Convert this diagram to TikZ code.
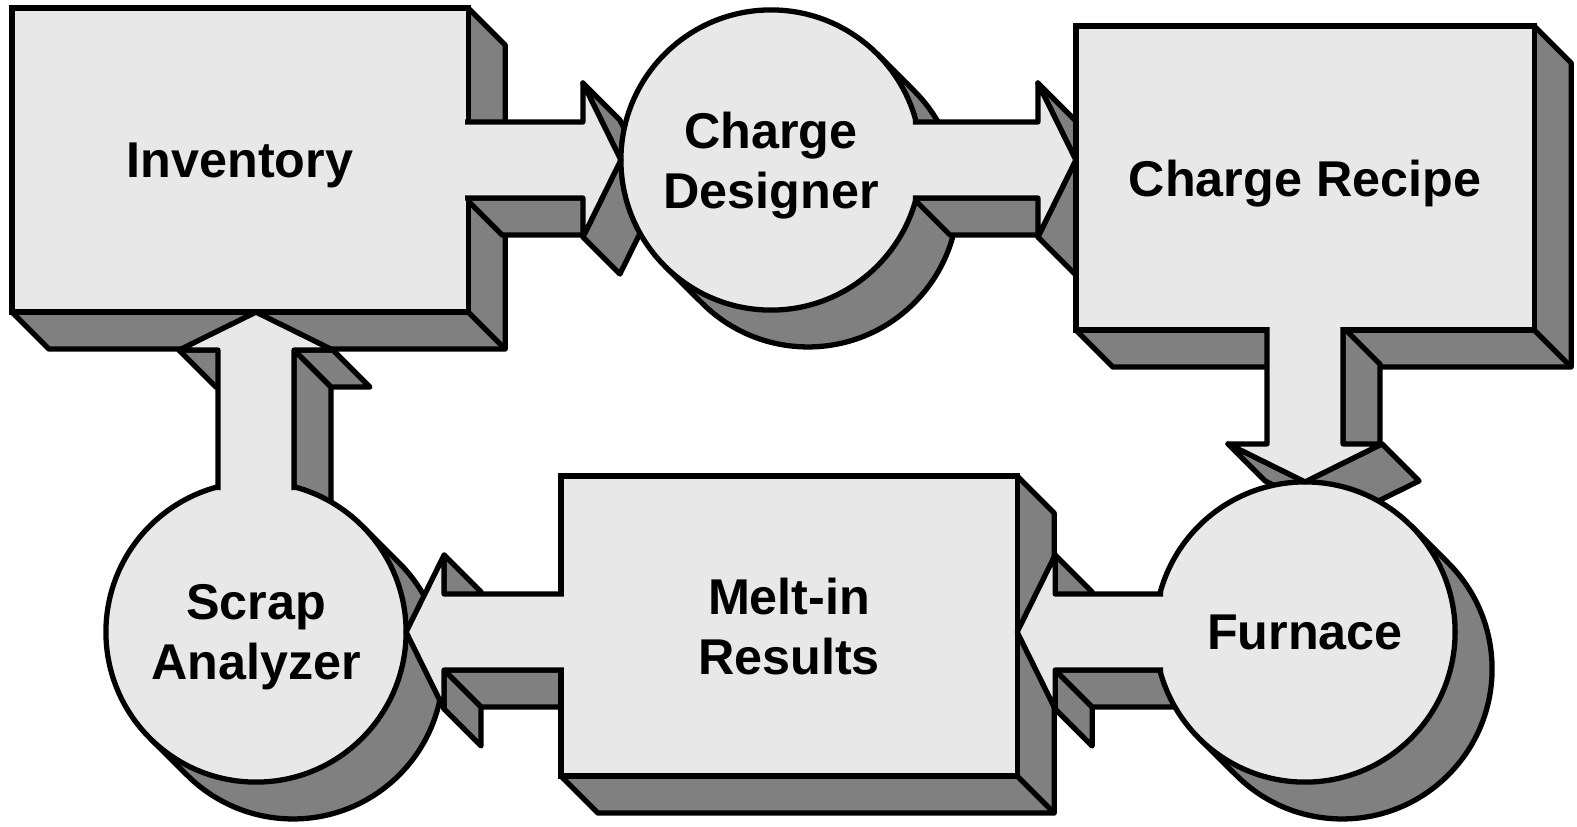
\documentclass[tikz,border=0pt]{standalone}
\usepackage{fontspec}
\setmainfont{Liberation Sans}
\usepackage{tikz}
\usetikzlibrary{calc}
\definecolor{myface}{RGB}{232,232,232}
\definecolor{myside}{RGB}{128,128,128}
\pgfdeclarelayer{back}
\pgfdeclarelayer{side}
\pgfdeclarelayer{top}
\pgfsetlayers{back,side,main,top}
\tikzset{
  block/.style={rectangle, draw=black, fill=myface, line width=1.5pt,
    outer sep=0pt, inner sep=0pt, align=center, text depth=0pt,
    font=\bfseries\fontsize{14.3}{17}\selectfont},
  proc/.style={block, circle, minimum size=3cm},
  depth/.style={draw=black, fill=myside, line width=1.5pt, line join=round},
  flow/.style={draw=black, fill=myface, line width=1.5pt, line join=round}
}
% 3D block arrows: #1 start on the source, #2 tip on the target
\newcommand{\flowright}[2]{%
  \begin{pgfonlayer}{side}
    \draw[depth] ($#1+(-3,-38)$) -- ($#2+(-38,-38)$) -- ($#2+(-1,-75)$) -- ($#1+(34,-75)$) -- cycle;
    \draw[depth] #2 -- ($#2+(-38,-77)$) -- ($#2+(-1,-114)$) -- ($#2+(37,-37)$) -- cycle;
    \draw[depth] ($#2+(-38,77)$) -- #2 -- ($#2+(37,-37)$) -- ($#2+(-1,40)$) -- cycle;
  \end{pgfonlayer}
  \begin{pgfonlayer}{top}
    \draw[flow] ($#1+(-3,38)$) -- ($#2+(-38,38)$) -- ($#2+(-38,77)$) -- #2
      -- ($#2+(-38,-77)$) -- ($#2+(-38,-38)$) -- ($#1+(-3,-38)$);
  \end{pgfonlayer}}
\newcommand{\flowleft}[2]{%
  \begin{pgfonlayer}{side}
    \draw[depth] ($#2+(38,77)$) -- ($#2+(38,38)$) -- ($#2+(75,1)$) -- ($#2+(75,40)$) -- cycle;
    \draw[depth] ($#2+(38,-38)$) -- ($#2+(38,-77)$) -- ($#2+(75,-114)$) -- ($#2+(75,-75)$) -- cycle;
    \draw[depth] ($#2+(38,-38)$) -- ($#1+(3,-38)$) -- ($#1+(40,-75)$) -- ($#2+(75,-75)$) -- cycle;
  \end{pgfonlayer}
  \begin{pgfonlayer}{top}
    \draw[flow] ($#1+(3,38)$) -- ($#2+(38,38)$) -- ($#2+(38,77)$) -- #2
      -- ($#2+(38,-77)$) -- ($#2+(38,-38)$) -- ($#1+(3,-38)$);
  \end{pgfonlayer}}
\newcommand{\flowdown}[2]{%
  \begin{pgfonlayer}{side}
    \draw[depth] ($#1+(38,3)$) -- ($#2+(38,38)$) -- ($#2+(75,1)$) -- ($#1+(75,-34)$) -- cycle;
    \draw[depth] ($#2+(77,38)$) -- #2 -- ($#2+(37,-37)$) -- ($#2+(114,1)$) -- cycle;
    \draw[depth] #2 -- ($#2+(-77,38)$) -- ($#2+(-40,1)$) -- ($#2+(37,-37)$) -- cycle;
  \end{pgfonlayer}
  \begin{pgfonlayer}{top}
    \draw[flow] ($#1+(-38,3)$) -- ($#2+(-38,38)$) -- ($#2+(-77,38)$) -- #2
      -- ($#2+(77,38)$) -- ($#2+(38,38)$) -- ($#1+(38,3)$);
  \end{pgfonlayer}}
\newcommand{\flowup}[2]{%
  \begin{pgfonlayer}{side}
    \draw[depth] ($#2+(-77,-38)$) -- ($#2+(-38,-38)$) -- ($#2+(-1,-75)$) -- ($#2+(-40,-75)$) -- cycle;
    \draw[depth] ($#2+(38,-38)$) -- ($#2+(77,-38)$) -- ($#2+(114,-75)$) -- ($#2+(75,-75)$) -- cycle;
    \draw[depth] ($#2+(38,-38)$) -- ($#1+(38,-3)$) -- ($#1+(75,-40)$) -- ($#2+(75,-75)$) -- cycle;
  \end{pgfonlayer}
  \begin{pgfonlayer}{top}
    \draw[flow] ($#1+(-38,-3)$) -- ($#2+(-38,-38)$) -- ($#2+(-77,-38)$) -- #2
      -- ($#2+(77,-38)$) -- ($#2+(38,-38)$) -- ($#1+(38,-3)$);
  \end{pgfonlayer}}

\begin{document}
\begin{tikzpicture}[x=0.01cm, y=0.01cm]
  \useasboundingbox (0,0) rectangle (1577,826);

  % Stores
  \node[block, minimum width=4.56cm, minimum height=3.04cm] (inv) at (240,666) {Inventory};
  \node[block, minimum width=4.58cm, minimum height=3.04cm] (rec) at (1305,648) {Charge Recipe};
  \node[block, minimum width=4.56cm, minimum height=3.0cm] (mel) at (789,200) {Melt-in\\Results};

  % Processes
  \node[proc] (des) at (771,666) {Charge\\Designer};
  \node[proc] (fur) at (1305,194) {Furnace};
  \node[proc] (scr) at (256,194) {Scrap\\Analyzer};

  % Depth of the stores and processes
  \begin{pgfonlayer}{back}
    \foreach \n in {inv,rec,mel} {
      \draw[depth] (\n.north east) -- ++(37,-37) -- ($(\n.south east)+(37,-37)$)
        -- ($(\n.south west)+(37,-37)$) -- (\n.south west) -- cycle;
      \draw[depth] (\n.south east) -- ++(37,-37);
    }
    \foreach \n in {des,fur,scr}
      \draw[depth] (\n.45) -- ++(37,-37) arc[start angle=45, end angle=-135, radius=150]
        -- (\n.225) -- cycle;
  \end{pgfonlayer}

  % Flows
  \flowright{(inv.east |- des.west)}{(des.west)}
  \flowright{(des.15 |- des.east)}{(rec.west |- des.east)}
  \flowdown{(rec.south -| fur.north)}{(fur.north)}
  \flowleft{(fur.165 |- fur.west)}{(mel.east |- fur.west)}
  \flowleft{(mel.west |- scr.east)}{(scr.east)}
  \flowup{(scr.75 -| scr.north)}{(inv.south -| scr.north)}
\end{tikzpicture}
\end{document}
